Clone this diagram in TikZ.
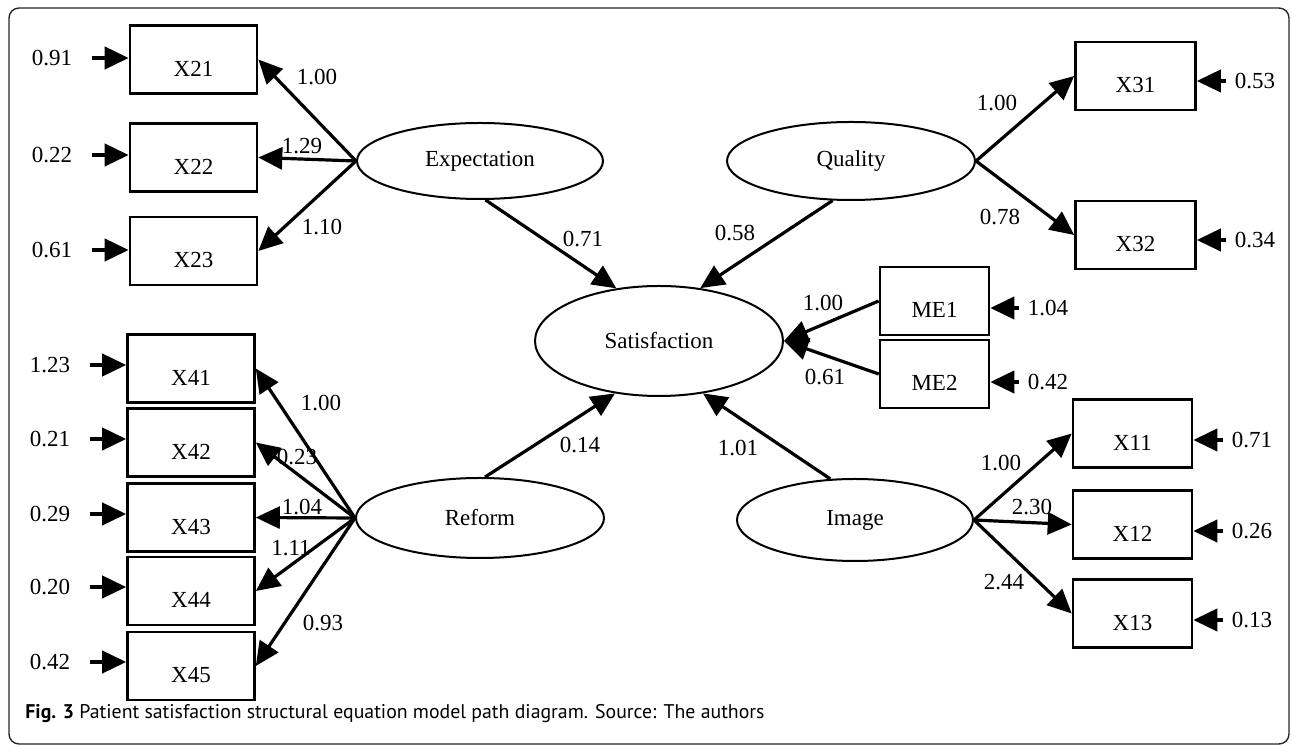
\documentclass[tikz,border=0pt]{standalone}
\usepackage{fontspec}
\setmainfont{Liberation Serif}
\newfontfamily\capfont{PT Sans}
\usetikzlibrary{shapes.geometric,arrows.meta}

\begin{document}
\begin{tikzpicture}
  [
    x=0.5pt, y=-0.5pt,
    >={Triangle[length=12pt,width=11pt]},
    every node/.style = {font=\fontsize{11.5}{13}\selectfont},
    obs/.style    = {draw, rectangle, line width=1.3pt, inner sep=0pt,
                     minimum height=34pt, text height=17pt, text depth=0pt},
    latent/.style = {draw, ellipse, line width=1pt, inner sep=0pt},
    load/.style   = {->, line width=1.6pt},
    err/.style    = {->, line width=2pt},
  ]

%Page and frame
\useasboundingbox (0,0) rectangle (1292,747);
\draw[line width=0.7pt, rounded corners=5pt, black!85] (9,8) rectangle (1289,744);

%Latent variables
\node[latent, minimum width=123pt, minimum height=38pt] (Expectation)  at (480,161) {Expectation};
\node[latent, minimum width=124pt, minimum height=39pt] (Quality)      at (851,161) {Quality};
\node[latent, minimum width=124pt, minimum height=55pt] (Satisfaction) at (659,341) {Satisfaction};
\node[latent, minimum width=124pt, minimum height=40pt] (Reform)       at (480,518) {Reform};
\node[latent, minimum width=118pt, minimum height=41pt] (Image)        at (855,520) {Image};

%Expectation block (left, top)
\foreach \n/\y/\e/\ey/\lx/\ly/\w in {21/59.5/0.91/58/317/77/1.00,
                                      22/157.5/0.22/155/302/146/1.29,
                                      23/251/0.61/250/322/227/1.10}
{
\node[obs, minimum width=63.5pt] (X\n) at (193.5,\y) {X\n};
\node (e\n) at (52,\ey) {\e};
\draw[err, shorten <=6.5pt] (e\n) -- (X\n.west |- e\n);
\draw[load] (Expectation.west) -- (X\n.east);
\node (l\n) at (\lx,\ly) {\w};
}

%Reform block (left, bottom)
\foreach \n/\y/\e/\ey/\lx/\ly/\w in {41/368.5/1.23/365/321/403/1.00,
                                      42/442.5/0.21/439/297/457/0.23,
                                      43/517.5/0.29/514/302/507/1.04,
                                      44/591/0.20/587/291/548/1.11,
                                      45/666/0.42/662/323/623/0.93}
{
\node[obs, minimum width=63.5pt] (X\n) at (191,\y) {X\n};
\node (e\n) at (50,\ey) {\e};
\draw[err, shorten <=6.5pt] (e\n) -- (X\n.west |- e\n);
\draw[load] (Reform.west) -- (X\n.east);
\node (l\n) at (\lx,\ly) {\w};
}

%Quality block (right, top)
\foreach \n/\y/\e/\ey/\lx/\ly/\w in {31/76/0.53/81/997/103/1.00,
                                      32/235/0.34/240/1000/217/0.78}
{
\node[obs, minimum width=60pt] (X\n) at (1135.5,\y) {X\n};
\node (e\n) at (1255,\ey) {\e};
\draw[err, shorten <=1pt] (e\n) -- (X\n.east |- e\n);
\draw[load] (Quality.east) -- (X\n.west);
\node (l\n) at (\lx,\ly) {\w};
}

%Image block (right, bottom)
\foreach \n/\y/\e/\ey/\lx/\ly/\w in {11/433.5/0.71/440/1001/463/1.00,
                                      12/524.5/0.26/531/1032/507/2.30,
                                      13/613.5/0.13/620/1004/582/2.44}
{
\node[obs, minimum width=59.5pt] (X\n) at (1132.5,\y) {X\n};
\node (e\n) at (1252,\ey) {\e};
\draw[err, shorten <=1pt] (e\n) -- (X\n.east |- e\n);
\draw[load] (Image.east) -- (X\n.west);
\node (l\n) at (\lx,\ly) {\w};
}

%Satisfaction indicators
\foreach \n/\y/\e/\ey/\lx/\ly/\w in {1/301/1.04/308/823/303/1.00,
                                     2/374/0.42/382/825/377/0.61}
{
\node[obs, minimum width=54.5pt] (ME\n) at (934.5,\y) {ME\n};
\node (eME\n) at (1048,\ey) {\e};
\draw[err, shorten <=1pt] (eME\n) -- (ME\n.east |- eME\n);
\draw[load] (ME\n.west) -- (Satisfaction.east);
\node (lME\n) at (\lx,\ly) {\w};
}

%Structural paths
\draw[load] (Expectation.278) -- (Satisfaction.129);
\draw[load] (Quality.245) -- (Satisfaction.52);
\draw[load] (Reform.83) -- (Satisfaction.230);
\draw[load] (Image.121) -- (Satisfaction.310);
\node (s1) at (583,239) {0.71};
\node (s2) at (735,233) {0.58};
\node (s3) at (580,445) {0.14};
\node (s4) at (738,448) {1.01};

%Caption
\node[anchor=west, font=\capfont\fontsize{9.9}{12}\selectfont, inner sep=0pt] (caption) at (25,714)
  {\textbf{Fig. 3} Patient satisfaction structural equation model path diagram. Source: The authors};
\end{tikzpicture}
\end{document}
